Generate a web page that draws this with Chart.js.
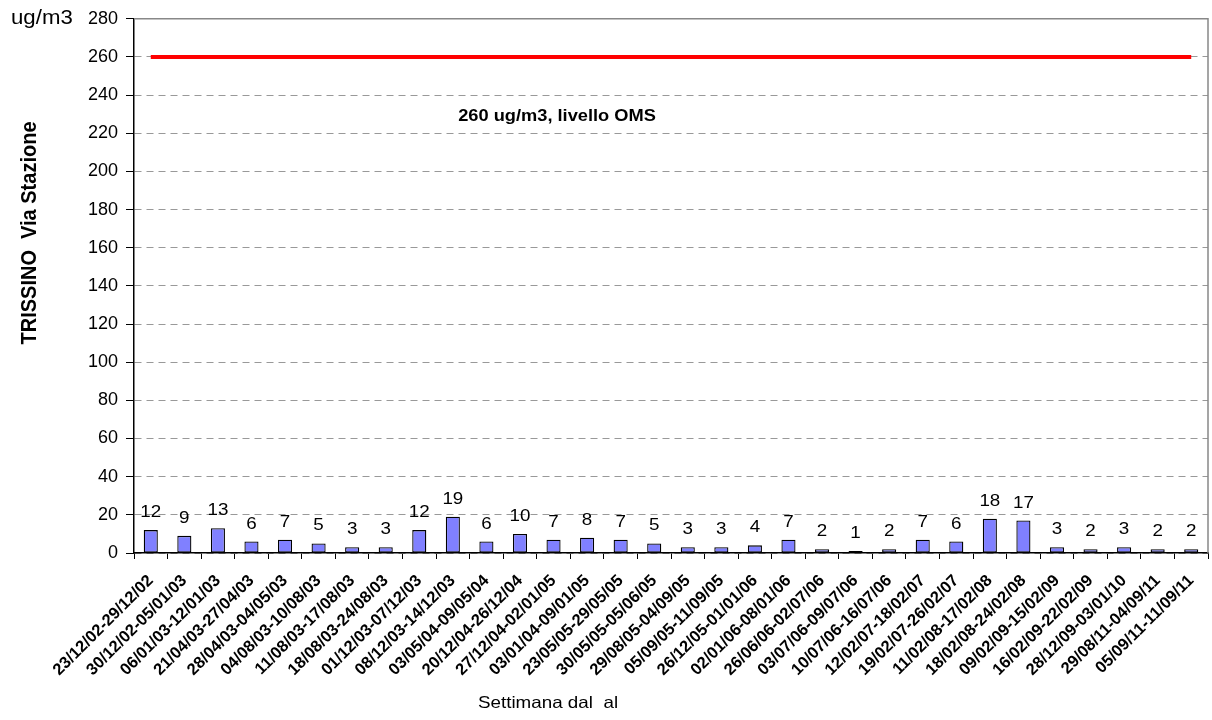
<!DOCTYPE html>
<html>
<head>
<meta charset="utf-8">
<script src="https://cdn.jsdelivr.net/npm/chart.js@4/dist/chart.umd.min.js"></script>
<style>
  html, body { margin: 0; padding: 0; background: #fff; }
  #wrap { width: 1212px; height: 720px; position: relative; }
</style>
</head>
<body>
<div id="wrap"><canvas id="chart"></canvas></div>
<script>
// weeks (dal - al)
const weeks = [
  '23/12/02-29/12/02', '30/12/02-05/01/03', '06/01/03-12/01/03', '21/04/03-27/04/03',
  '28/04/03-04/05/03', '04/08/03-10/08/03', '11/08/03-17/08/03', '18/08/03-24/08/03',
  '01/12/03-07/12/03', '08/12/03-14/12/03', '03/05/04-09/05/04', '20/12/04-26/12/04',
  '27/12/04-02/01/05', '03/01/04-09/01/05', '23/05/05-29/05/05', '30/05/05-05/06/05',
  '29/08/05-04/09/05', '05/09/05-11/09/05', '26/12/05-01/01/06', '02/01/06-08/01/06',
  '26/06/06-02/07/06', '03/07/06-09/07/06', '10/07/06-16/07/06', '12/02/07-18/02/07',
  '19/02/07-26/02/07', '11/02/08-17/02/08', '18/02/08-24/02/08', '09/02/09-15/02/09',
  '16/02/09-22/02/09', '28/12/09-03/01/10', '29/08/11-04/09/11', '05/09/11-11/09/11'
];
const values = [12, 9, 13, 6, 7, 5, 3, 3, 12, 19, 6, 10, 7, 8, 7, 5, 3, 3, 4, 7, 2, 1, 2, 7, 6, 18, 17, 3, 2, 3, 2, 2];
const omsLevel = 260;
const yTicks = [0, 20, 40, 60, 80, 100, 120, 140, 160, 180, 200, 220, 240, 260, 280];

const FONT = 'Arial, "Liberation Sans", sans-serif';
const SX = 1.14; // the original text is a bit wider than plain Arial

function wideText(ctx, txt, x, y) {
  ctx.save();
  ctx.translate(x, y);
  ctx.scale(SX, 1);
  ctx.fillText(txt, 0, 0);
  ctx.restore();
}

// draws values over bars, the frame and the loose texts
const extras = {
  id: 'extras',
  afterDatasetsDraw(chart) {
    const ctx = chart.ctx;
    const area = chart.chartArea;
    ctx.save();

    // grey frame top / right
    ctx.strokeStyle = '#888';
    ctx.lineWidth = 1.5;
    ctx.beginPath();
    ctx.moveTo(area.left, area.top);
    ctx.lineTo(area.right, area.top);
    ctx.lineTo(area.right, area.bottom);
    ctx.stroke();

    // bar values
    ctx.fillStyle = '#000';
    ctx.font = '16.5px ' + FONT;
    ctx.textAlign = 'center';
    ctx.textBaseline = 'alphabetic';
    chart.getDatasetMeta(0).data.forEach((bar, i) => {
      wideText(ctx, String(values[i]), bar.x, bar.y - 13);
    });

    // OMS label
    const yScale = chart.scales.y;
    ctx.font = 'bold 16px ' + FONT;
    ctx.textBaseline = 'middle';
    wideText(ctx, omsLevel + ' ug/m3, livello OMS', 557, yScale.getPixelForValue(229));

    // unit
    ctx.font = '19.5px ' + FONT;
    ctx.textAlign = 'left';
    wideText(ctx, 'ug/m3', 11, yScale.getPixelForValue(280));

    // x title
    ctx.font = '16.5px ' + FONT;
    ctx.textAlign = 'center';
    wideText(ctx, 'Settimana dal  al', 548, 703);

    // y title
    ctx.translate(30, 233);
    ctx.scale(SX, 1);
    ctx.rotate(-Math.PI / 2);
    ctx.font = 'bold 20px ' + FONT;
    ctx.fillText('TRISSINO  Via Stazione', 0, 0);

    ctx.restore();
  }
};

new Chart(document.getElementById('chart'), {
  type: 'bar',
  data: {
    labels: weeks,
    datasets: [
      {
        type: 'bar',
        label: 'ug/m3',
        data: values,
        backgroundColor: '#8080FF',
        borderColor: '#000',
        borderWidth: 1.3,
        borderSkipped: false,
        categoryPercentage: 1,
        barPercentage: 0.42,
        order: 2
      },
      {
        type: 'line',
        label: 'livello OMS',
        data: [{ x: weeks[0], y: omsLevel }, { x: weeks[weeks.length - 1], y: omsLevel }],
        borderColor: '#FF0000',
        borderWidth: 4,
        pointRadius: 0,
        fill: false,
        order: 1
      }
    ]
  },
  options: {
    responsive: true,
    maintainAspectRatio: false,
    animation: false,
    layout: { padding: { top: 18, right: 4, left: 0, bottom: 0 } },
    plugins: {
      legend: { display: false },
      tooltip: { enabled: false }
    },
    scales: {
      x: {
        offset: true,
        grid: {
          offset: true,
          drawOnChartArea: false,
          drawTicks: true,
          tickLength: 6,
          tickColor: '#000'
        },
        border: { color: '#000', width: 1.5 },
        ticks: {
          autoSkip: false,
          maxRotation: 45,
          minRotation: 45,
          padding: 12,
          color: '#000',
          font: { family: FONT, size: 16.5, weight: 'bold' }
        },
        afterFit: (s) => {
          s.height = 167;
          s.paddingLeft = 0;
          s.paddingRight = 0;
        }
      },
      y: {
        min: 0,
        max: 280,
        afterBuildTicks: (s) => { s.ticks = yTicks.map(v => ({ value: v })); },
        grid: {
          color: '#999',
          lineWidth: 1,
          borderDash: [7, 5],
          tickLength: 8,
          tickColor: '#000',
          tickBorderDash: []
        },
        border: { color: '#000', width: 1.5, dash: [7, 5] },
        ticks: {
          padding: 8,
          color: '#000',
          font: { family: FONT, size: 18 }
        },
        afterFit: (s) => { s.width = 134; }
      }
    }
  },
  plugins: [extras]
});
</script>
</body>
</html>
